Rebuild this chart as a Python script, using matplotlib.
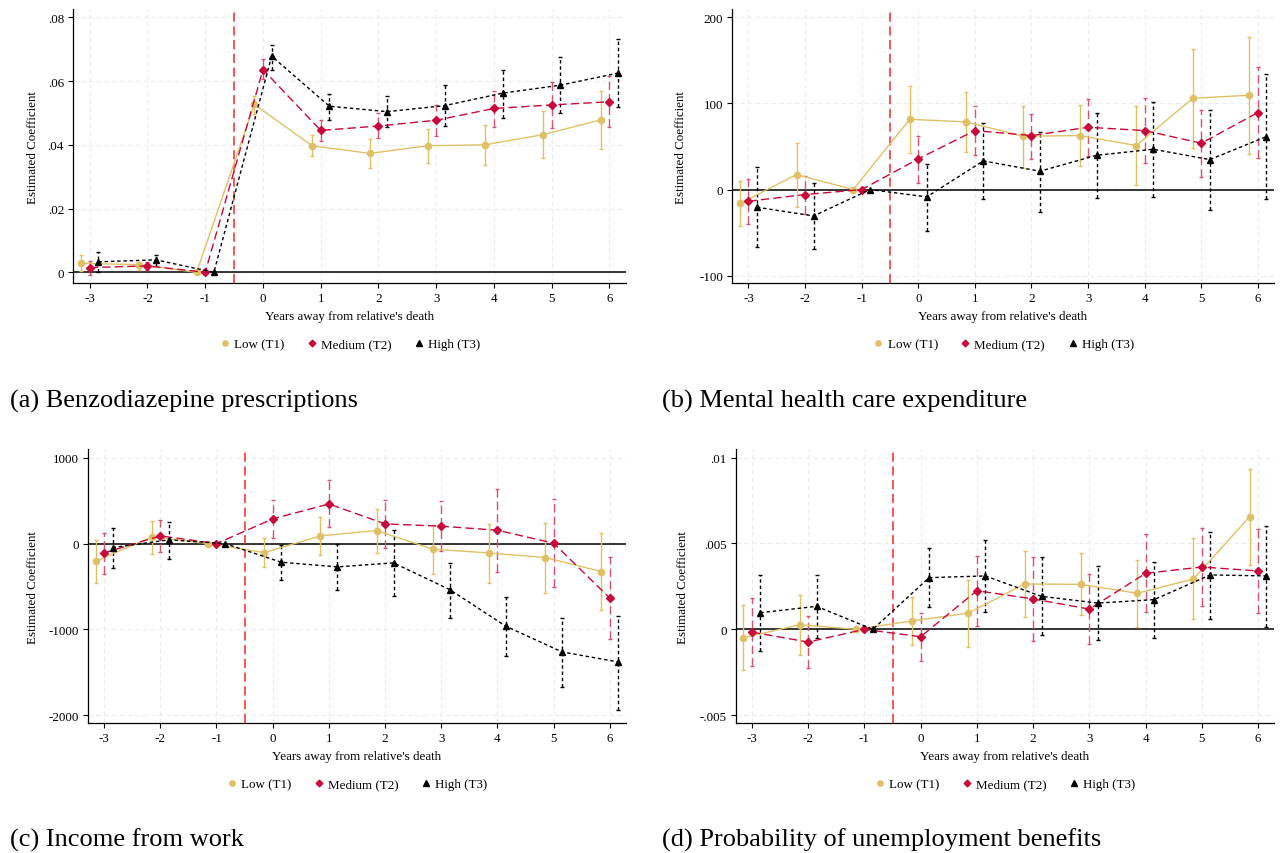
import matplotlib
matplotlib.use("Agg")
import matplotlib.pyplot as plt
from matplotlib.lines import Line2D
import numpy as np

plt.rcParams['font.family'] = ['Liberation Serif', 'DejaVu Serif']

# event time relative to the death (t = -1 is the omitted year)
years = np.array([-3, -2, -1, 0, 1, 2, 3, 4, 5, 6])

# ---- (a) benzodiazepine prescriptions ----
benzo_low = [0.0028, 0.0024, 0, 0.0527, 0.0397, 0.0373, 0.0397, 0.0400, 0.0432, 0.0478]
benzo_low_lo = [0.0005, 0.0008, 0, 0.0497, 0.0364, 0.0327, 0.0344, 0.0338, 0.0359, 0.0387]
benzo_low_hi = [0.0053, 0.0031, 0, 0.0554, 0.0431, 0.0417, 0.0450, 0.0463, 0.0505, 0.0569]
benzo_med = [0.0015, 0.0020, 0, 0.0636, 0.0445, 0.0459, 0.0477, 0.0514, 0.0525, 0.0535]
benzo_med_lo = [-0.0008, 0.0008, 0, 0.0607, 0.0411, 0.0421, 0.0427, 0.0456, 0.0452, 0.0455]
benzo_med_hi = [0.0035, 0.0031, 0, 0.0669, 0.0477, 0.0499, 0.0526, 0.0570, 0.0596, 0.0615]
benzo_high = [0.0033, 0.0039, 0, 0.0678, 0.0521, 0.0504, 0.0523, 0.0562, 0.0587, 0.0625]
benzo_high_lo = [0.0002, 0.0021, 0, 0.0636, 0.0479, 0.0455, 0.0458, 0.0484, 0.0499, 0.0518]
benzo_high_hi = [0.0063, 0.0053, 0, 0.0714, 0.0560, 0.0552, 0.0587, 0.0636, 0.0675, 0.0731]

# ---- (b) mental health care expenditure ----
mh_low = [-16, 17.4, 0, 81.6, 78.5, 61.9, 62.7, 51.1, 106, 109.5]
mh_low_lo = [-42.6, -20.5, 0, 42.2, 43.7, 25.1, 27.1, 5.4, 48.4, 41.4]
mh_low_hi = [10.4, 54, 0, 120.7, 113.7, 97.5, 98.6, 97.5, 162.9, 177.6]
mh_med = [-13.5, -5.8, 0, 35.6, 68.5, 62.7, 72.3, 68.5, 53.8, 89.4]
mh_med_lo = [-40.2, -28.2, 0, 7.7, 39.8, 36, 39.5, 31, 14.3, 36.8]
mh_med_hi = [12.8, 16.2, 0, 62.7, 97.1, 88.2, 105.6, 106.8, 92.8, 142.4]
mh_high = [-20.5, -30.6, 0, -8.5, 33.3, 21.3, 39.8, 46.8, 34.8, 61.5]
mh_high_lo = [-66.9, -69.2, 0, -47.6, -11.2, -25.5, -9.7, -8.1, -23.2, -10.8]
mh_high_hi = [25.9, 7.7, 0, 30.2, 77, 67.3, 89, 101.4, 92.5, 133.8]

# ---- (c) income from work ----
inc_low = [-205, 78, 0, -105, 89, 151, -66, -109, -163, -326]
inc_low_lo = [-457, -120, 0, -275, -136, -112, -353, -457, -570, -779]
inc_low_hi = [47, 267, 0, 62, 306, 407, 217, 233, 244, 124]
inc_med = [-109, 89, 0, 287, 461, 229, 202, 155, 4, -636]
inc_med_lo = [-353, -101, 0, 62, 190, -50, -85, -326, -505, -1109]
inc_med_hi = [128, 279, 0, 508, 740, 508, 493, 636, 519, -159]
inc_high = [-47, 43, 0, -217, -272, -225, -536, -963, -1262, -1379]
inc_high_lo = [-283, -175, 0, -419, -543, -609, -866, -1308, -1674, -1934]
inc_high_hi = [186, 256, 0, -19, 0, 159, -221, -617, -870, -839]

# ---- (d) probability of unemployment benefits ----
ub_low = [-0.00049, 0.00027, 0, 0.00049, 0.00095, 0.00264, 0.00262, 0.0021, 0.00293, 0.00656]
ub_low_lo = [-0.00237, -0.0015, 0, -0.00091, -0.0010, 0.0007, 0.00082, 0.00012, 0.0006, 0.00377]
ub_low_hi = [0.0014, 0.00198, 0, 0.00186, 0.00285, 0.00458, 0.00443, 0.00406, 0.0053, 0.00934]
ub_med = [-0.00016, -0.00074, 0, -0.00043, 0.00225, 0.00177, 0.00118, 0.00326, 0.00363, 0.0034]
ub_med_lo = [-0.00216, -0.00225, 0, -0.00183, 0.00021, -0.00066, -0.00087, 0.00099, 0.00134, 0.00097]
ub_med_hi = [0.00184, 0.0008, 0, 0.00097, 0.00429, 0.00421, 0.00324, 0.00553, 0.0059, 0.00583]
ub_high = [0.00097, 0.00134, 0, 0.00301, 0.00311, 0.00192, 0.00153, 0.00173, 0.00317, 0.00311]
ub_high_lo = [-0.00124, -0.00052, 0, 0.00128, 0.00099, -0.00035, -0.0006, -0.0005, 0.00062, 0.00012]
ub_high_hi = [0.00318, 0.00318, 0, 0.00472, 0.00518, 0.00419, 0.00369, 0.00394, 0.00569, 0.00604]

group_labels = ['Low (T1)', 'Medium (T2)', 'High (T3)']
captions = ['(a) Benzodiazepine prescriptions', '(b) Mental health care expenditure',
            '(c) Income from work', '(d) Probability of unemployment benefits']

C_LOW = '#E0C066'
C_MED = '#C70A3A'
C_MED_CI = '#D6536F'
C_HIGH = 'black'

styles = [
    dict(color=C_LOW, ci=C_LOW, marker='o', ms=4.5, ls='-', off=-0.15),
    dict(color=C_MED, ci=C_MED_CI, marker='D', ms=4, ls=(0, (6, 3)), off=0.0),
    dict(color=C_HIGH, ci=C_HIGH, marker='^', ms=5, ls=(0, (2.5, 2)), off=0.15),
]

W, H = 1282, 854
# axes boxes in pixels: left, right, top, bottom
boxes = [(73, 625.6, 10, 284.3), (732, 1273.8, 10, 284.3),
         (87.8, 625.6, 450, 724.3), (735.6, 1273.8, 450, 724.3)]
ylabel_x = [33, 681, 33, 683]
caption_pos = [(10, 401), (662, 401), (10, 840), (662, 840)]
FS = 9.4

panels = [
    ([benzo_low, benzo_med, benzo_high], [benzo_low_lo, benzo_med_lo, benzo_high_lo],
     [benzo_low_hi, benzo_med_hi, benzo_high_hi],
     [0, 0.02, 0.04, 0.06, 0.08], ['0', '.02', '.04', '.06', '.08'], (-0.00345, 0.0826)),
    ([mh_low, mh_med, mh_high], [mh_low_lo, mh_med_lo, mh_high_lo],
     [mh_low_hi, mh_med_hi, mh_high_hi],
     [-100, 0, 100, 200], ['-100', '0', '100', '200'], (-108.8, 209.6)),
    ([inc_low, inc_med, inc_high], [inc_low_lo, inc_med_lo, inc_high_lo],
     [inc_low_hi, inc_med_hi, inc_high_hi],
     [-2000, -1000, 0, 1000], ['-2000', '-1000', '0', '1000'], (-2093, 1101)),
    ([ub_low, ub_med, ub_high], [ub_low_lo, ub_med_lo, ub_high_lo],
     [ub_low_hi, ub_med_hi, ub_high_hi],
     [-0.005, 0, 0.005, 0.01], ['-.005', '0', '.005', '.01'], (-0.00547, 0.0105)),
]

fig = plt.figure(figsize=(W / 100, H / 100), dpi=100)

for i, (coefs, los, his, yt, ytl, ylim) in enumerate(panels):
    l, r, t, b = boxes[i]
    ax = fig.add_axes([l / W, 1 - b / H, (r - l) / W, (b - t) / H])

    ax.set_xlim(-3.29, 6.28)
    ax.set_ylim(*ylim)
    ax.set_xticks(years)
    ax.set_xticklabels([str(y) for y in years])
    ax.set_yticks(yt)
    ax.set_yticklabels(ytl)
    ax.grid(True, color='#EBEBEB', linestyle=(0, (4, 3)), linewidth=0.8, zorder=0)
    ax.set_axisbelow(True)
    for s in ['top', 'right']:
        ax.spines[s].set_visible(False)
    for s in ['left', 'bottom']:
        ax.spines[s].set_linewidth(0.9)
    ax.tick_params(labelsize=FS, length=3.5, width=0.8, pad=3)

    ax.axhline(0, color='black', linewidth=1.1, zorder=1)
    ax.axvline(-0.5, color='#F42A2A', linewidth=1.1, linestyle=(0, (6, 3)), zorder=1)

    for st, c, lo, hi in zip(styles, coefs, los, his):
        x = years + st['off']
        c = np.array(c)
        err = [c - np.array(lo), np.array(hi) - c]
        eb = ax.errorbar(x, c, yerr=err, fmt='none', ecolor=st['ci'], elinewidth=1.0,
                         capsize=1.5, capthick=1.0, zorder=2)
        eb[2][0].set_linestyle(st['ls'])
        ax.plot(x, c, color=st['color'], linestyle=st['ls'], linewidth=1.0,
                marker=st['marker'], markersize=st['ms'], zorder=3)

    # x label and legend sit a fixed number of pixels under the axis
    hgt = b - t
    ax.set_xlabel("Years away from relative's death", fontsize=FS)
    ax.xaxis.set_label_coords(0.5, -32.4 / hgt)
    ax.xaxis.label.set_va('center')
    ax.set_ylabel('Estimated Coefficient', fontsize=FS)
    ax.yaxis.set_label_coords((ylabel_x[i] - l) / (r - l), 0.5)
    ax.yaxis.label.set_va('center')

    handles = [Line2D([], [], color=st['color'], marker=st['marker'], linestyle='none',
                      markersize=st['ms'] * 0.85) for st in styles]
    ax.legend(handles, group_labels, loc='center', bbox_to_anchor=(0.5, -60.7 / hgt),
              ncol=3, frameon=False, fontsize=FS, handletextpad=0.2, columnspacing=1.6,
              handlelength=1.0)

    cx, cy = caption_pos[i]
    fig.text(cx / W, 1 - cy / H, captions[i], fontsize=19, ha='left', va='center')

fig.savefig('out.png', dpi=100)
